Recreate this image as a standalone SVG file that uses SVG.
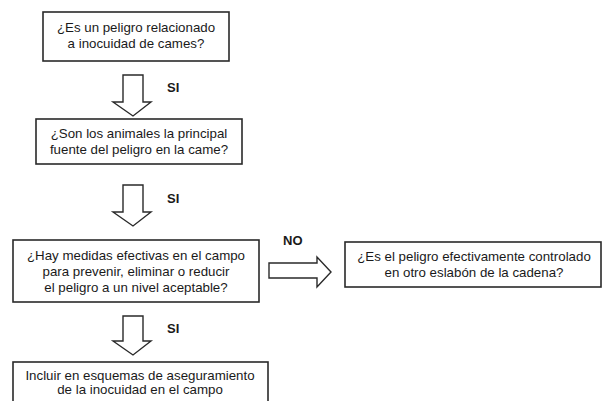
<svg xmlns="http://www.w3.org/2000/svg" width="605" height="401" viewBox="0 0 605 401">
<style>
.box{fill:#fff;stroke:#2a2a2a;stroke-width:1.6}
.arr{fill:#fff;stroke:#2a2a2a;stroke-width:1.4;stroke-linejoin:miter}
.t{font-family:"Liberation Sans",Arial,sans-serif;font-size:13.3px;fill:#1a1a1a;text-anchor:middle}
.lbl{font-family:"Liberation Sans",Arial,sans-serif;font-size:13px;font-weight:bold;fill:#1a1a1a}
</style>
<rect width="605" height="401" fill="#fff"/>
<g id="n1">
<rect class="box" x="43" y="12" width="186" height="49"/>
<text class="t" x="136" y="32">¿Es un peligro relacionado</text>
<text class="t" x="136" y="48">a inocuidad de cames?</text>
</g>
<g id="n2">
<rect class="box" x="36" y="119" width="206" height="45"/>
<text class="t" x="139" y="138">¿Son los animales la principal</text>
<text class="t" x="139" y="154">fuente del peligro en la came?</text>
</g>
<g id="n3">
<rect class="box" x="13" y="240" width="246" height="62"/>
<text class="t" x="136" y="260">¿Hay medidas efectivas en el campo</text>
<text class="t" x="136" y="276">para prevenir, eliminar o reducir</text>
<text class="t" x="136" y="292">el peligro a un nivel aceptable?</text>
</g>
<g id="n4">
<rect class="box" x="13" y="362" width="255" height="50"/>
<text class="t" x="140" y="380">Incluir en esquemas de aseguramiento</text>
<text class="t" x="140" y="394">de la inocuidad en el campo</text>
</g>
<g id="n5">
<rect class="box" x="345" y="242" width="256" height="45"/>
<text class="t" x="474" y="261">¿Es el peligro efectivamente controlado</text>
<text class="t" x="474" y="277">en otro eslabón de la cadena?</text>
</g>
<g id="connectors">
<polygon class="arr" points="123,75 143,75 143,102 151,102 133,116 113,102 123,102"/>
<polygon class="arr" points="123,185 143,185 143,212 151,212 133,226 113,212 123,212"/>
<polygon class="arr" points="123,316 143,316 143,341 151,341 133,355 113,341 123,341"/>
<polygon class="arr" points="269,263 317,263 317,257 331,272 317,287 317,278 269,278"/>
<text class="lbl" x="167" y="92">SI</text>
<text class="lbl" x="167" y="203">SI</text>
<text class="lbl" x="167" y="333">SI</text>
<text class="lbl" x="283" y="245">NO</text>
</g>
</svg>
